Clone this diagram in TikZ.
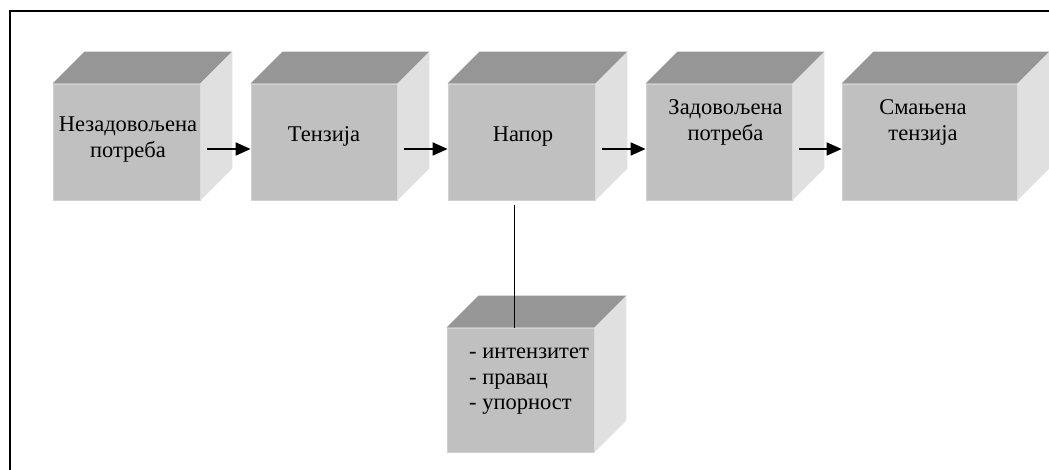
\documentclass[tikz,border=0pt]{standalone}
\usepackage{fontspec}
\setmainfont{Liberation Serif}
\usetikzlibrary{arrows.meta}

\definecolor{frontgray}{HTML}{C0C0C0}
\definecolor{topgray}{HTML}{969696}
\definecolor{sidegray}{HTML}{E0E0E0}
\definecolor{edgegray}{HTML}{D2D2D2}

\tikzset{
  front/.style={rectangle, fill=frontgray, draw=edgegray, line width=0.8pt,
    inner sep=0pt, minimum height=116pt},
  label/.style={inner sep=0pt, align=center,
    font=\fontsize{22.5}{25.5}\selectfont},
  arr/.style={line width=1.8pt, -{Triangle[length=15pt,width=13pt]}},
  frame/.style={line width=2pt},
}

% top and right faces of a box whose front face is the node #1, depth #2
\newcommand{\cubefaces}[2]{%
  \fill[topgray] (#1.north west) -- ++(#2,-#2) -- ([shift={(#2,-#2)}]#1.north east) -- (#1.north east) -- cycle;
  \fill[sidegray] (#1.north east) -- ++(#2,-#2) -- ([shift={(#2,-#2)}]#1.south east) -- (#1.south east) -- cycle;
}

\begin{document}
\begin{tikzpicture}[x=1pt, y=-1pt]
\useasboundingbox (0,0) rectangle (1049,470);

% outer frame
\draw[frame] (10,471) -- (10,11) -- (1050,11);

% front faces
\node[front, minimum width=147pt] (f1) at (126.5,142) {};
\node[front, minimum width=146pt] (f2) at (324,142) {};
\node[front, minimum width=147pt] (f3) at (521.5,142) {};
\node[front, minimum width=146pt] (f4) at (719,142) {};
\node[front, minimum width=175pt] (f5) at (929.5,142) {};
\node[front, minimum width=147pt, minimum height=124pt] (f6) at (520.5,390) {};

\cubefaces{f1}{32}
\cubefaces{f2}{32}
\cubefaces{f3}{32}
\cubefaces{f4}{32}
\cubefaces{f5}{32}
\cubefaces{f6}{32}

% labels
\node[label] (t1) at (128,139.5) {Незадовољена\\потреба};
\node[label, anchor=base] (t2) at (324,142) {Тензија};
\node[label, anchor=base] (t3) at (523,142) {Напор};
\node[label] (t4) at (725.5,122.5) {Задовољена\\потреба};
\node[label] (t5) at (923,122.5) {Смањена\\тензија};
\node[label, align=left, anchor=west] (t6) at (469,381.5) {- интензитет\\- правац\\- упорност};

% flow arrows
\draw[arr] ([shift={(7,7)}]f1.east) coordinate (a1) -- (a1 -| f2.west);
\draw[arr] ([shift={(7,7)}]f2.east) coordinate (a2) -- (a2 -| f3.west);
\draw[arr] ([shift={(7,7)}]f3.east) coordinate (a3) -- (a3 -| f4.west);
\draw[arr] ([shift={(7,7)}]f4.east) coordinate (a4) -- (a4 -| f5.west);

% link to the attributes box
\draw[line width=1.8pt] ([shift={(-7,5)}]f3.south) coordinate (v) -- (v |- f6.north);
\end{tikzpicture}
\end{document}
